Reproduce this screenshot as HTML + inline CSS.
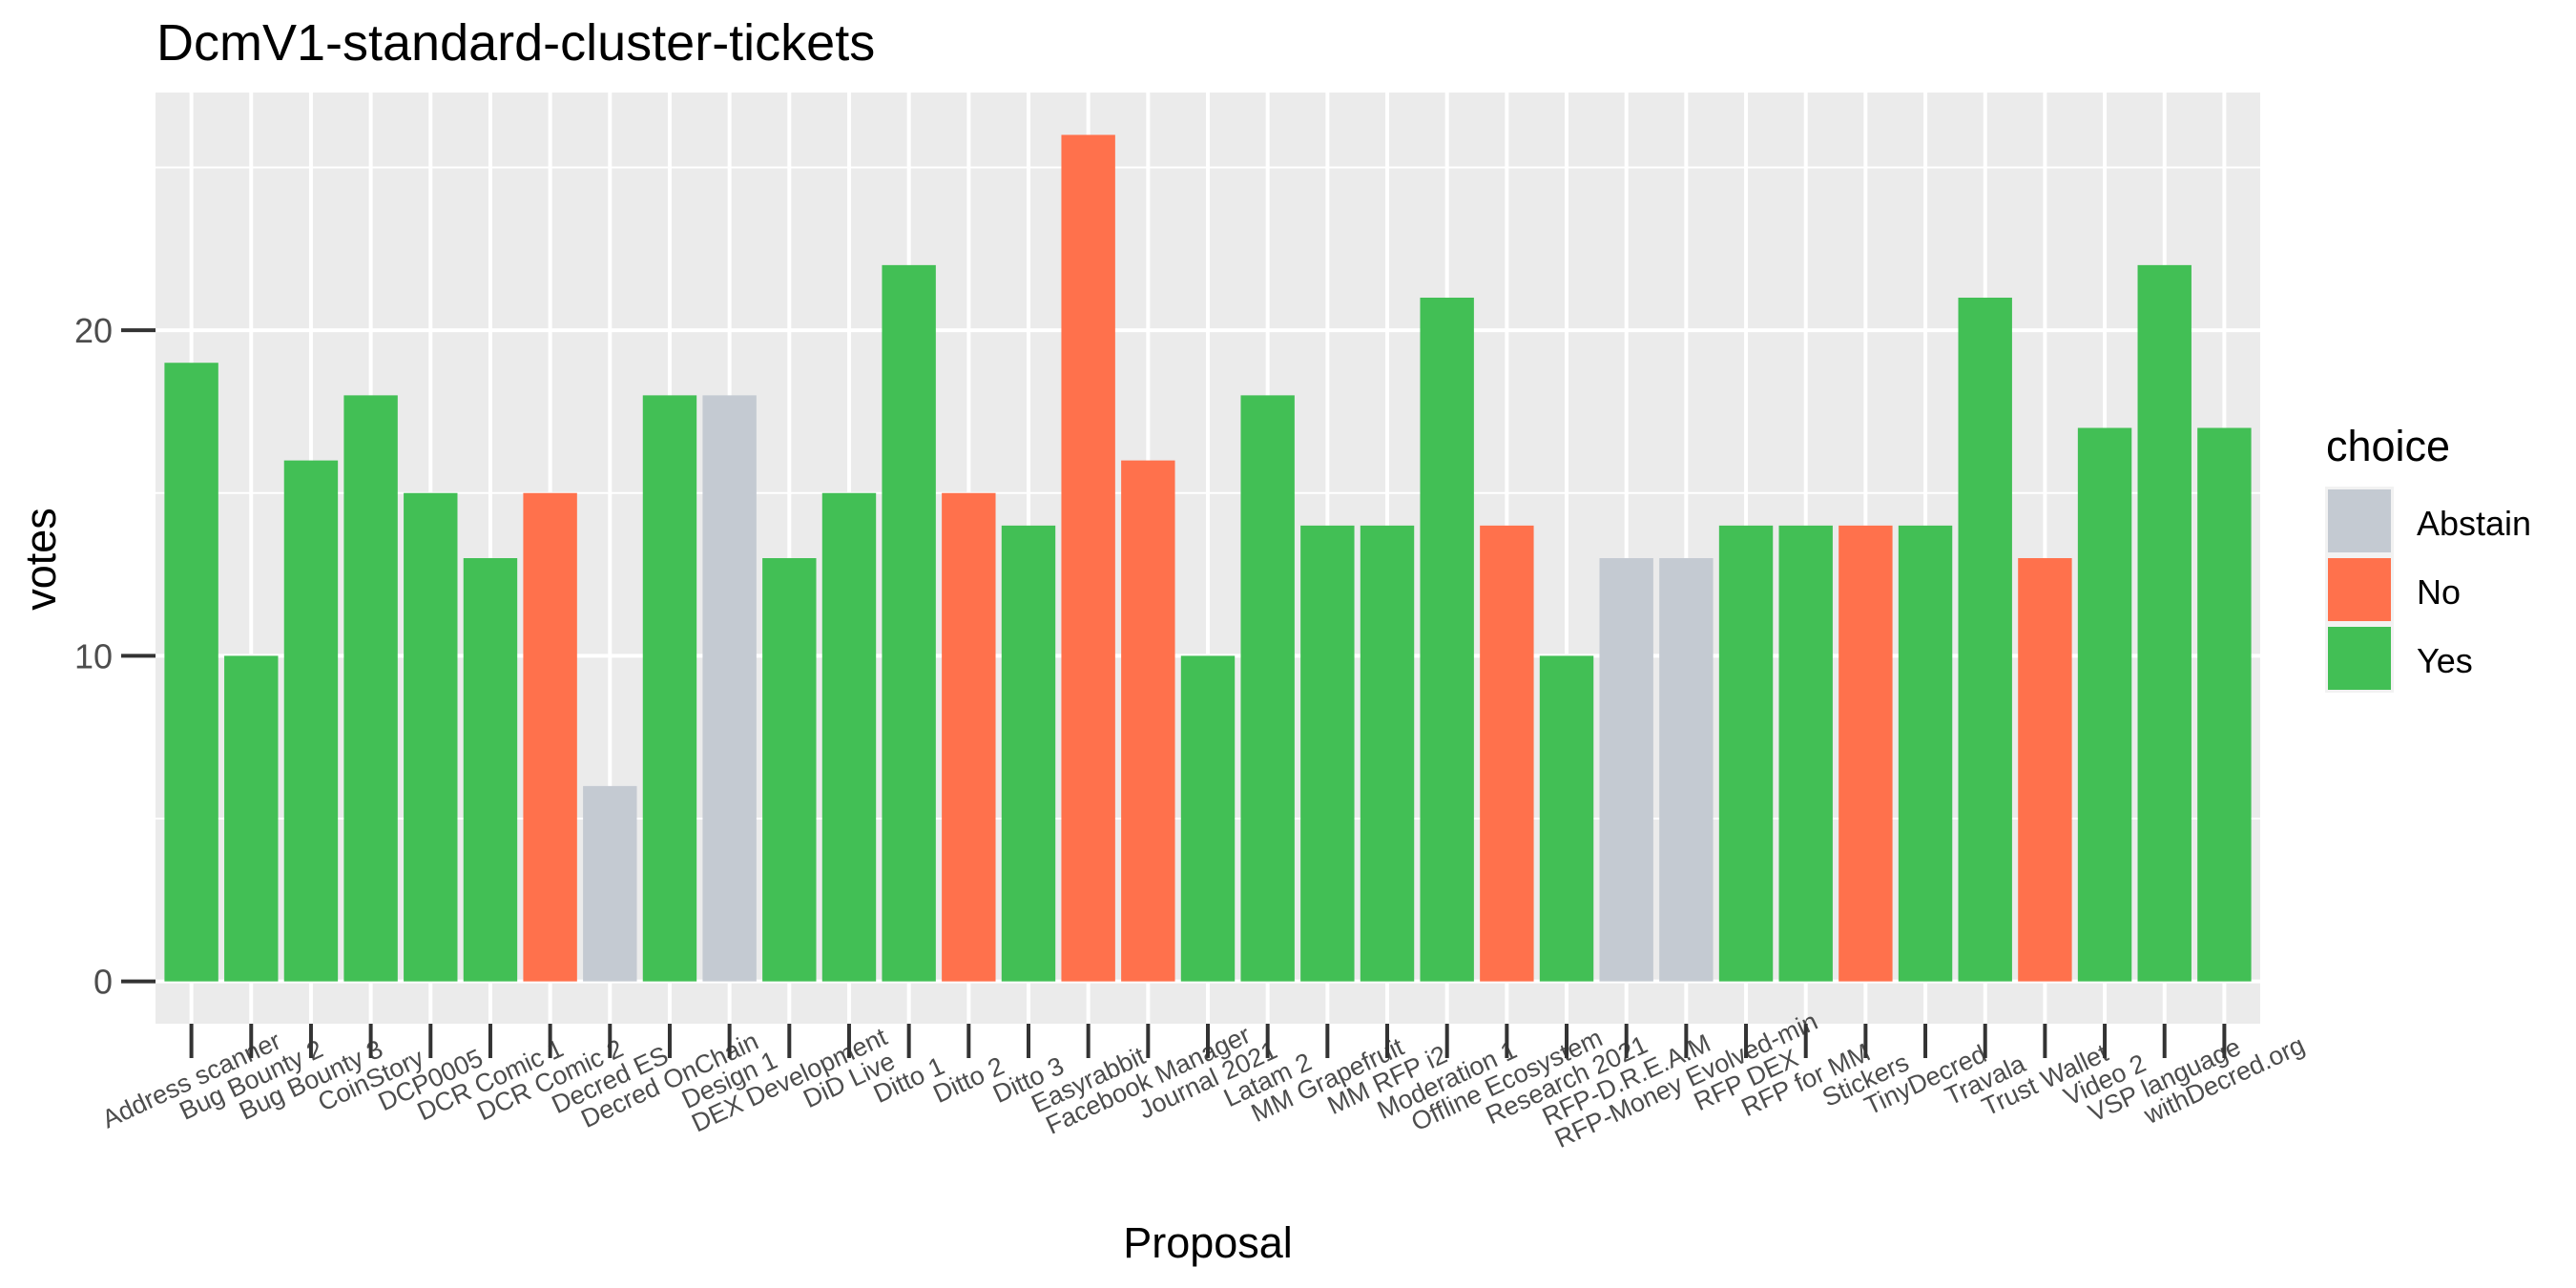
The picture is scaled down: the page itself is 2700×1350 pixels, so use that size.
<!DOCTYPE html>
<html><head><meta charset="utf-8"><style>
html,body{margin:0;padding:0;background:#fff;}
svg{display:block;font-family:"Liberation Sans",Arial,sans-serif;}
</style></head><body>
<svg id="chart" width="2700" height="1350" viewBox="0 0 2700 1350" xmlns="http://www.w3.org/2000/svg">
<rect x="0" y="0" width="2700" height="1350" fill="#fff"/>
<text x="164" y="63" font-size="54" fill="#000">DcmV1-standard-cluster-tickets</text>
<rect x="163" y="97" width="2206" height="976" fill="#EBEBEB"/>
<g id="grid"></g>
<g id="bars"></g>
<g id="yaxis"></g>
<g id="xaxis"></g>
<text x="0" y="0" font-size="45" fill="#000" text-anchor="middle" transform="translate(58,586) rotate(-90)">votes</text>
<text x="1266" y="1318" font-size="45" fill="#000" text-anchor="middle">Proposal</text>
<g>
<text x="2438" y="483" font-size="45" fill="#000">choice</text>
<rect x="2437" y="510" width="72" height="216" fill="#F2F2F2"/>
<rect x="2440" y="513" width="66" height="66" fill="#C4CAD2"/>
<text x="2533" y="561" font-size="36" fill="#000">Abstain</text>
<rect x="2440" y="585" width="66" height="66" fill="#FF714C"/>
<text x="2533" y="633" font-size="36" fill="#000">No</text>
<rect x="2440" y="657" width="66" height="66" fill="#42BF55"/>
<text x="2533" y="705" font-size="36" fill="#000">Yes</text>
</g>
</svg>
<script>
const categories = ["Address scanner","Bug Bounty 2","Bug Bounty 3","CoinStory","DCP0005","DCR Comic 1","DCR Comic 2","Decred ES","Decred OnChain","Design 1","DEX Development","DiD Live","Ditto 1","Ditto 2","Ditto 3","Easyrabbit","Facebook Manager","Journal 2021","Latam 2","MM Grapefruit","MM RFP i2","Moderation 1","Offline Ecosystem","Research 2021","RFP-D.R.E.A.M","RFP-Money Evolved-min","RFP DEX","RFP for MM","Stickers","TinyDecred","Travala","Trust Wallet","Video 2","VSP language","withDecred.org"];
const votes = [19,10,16,18,15,13,15,6,18,18,13,15,22,15,14,26,16,10,18,14,14,21,14,10,13,13,14,14,14,14,21,13,17,22,17];
const choices = ["Yes","Yes","Yes","Yes","Yes","Yes","No","Abstain","Yes","Abstain","Yes","Yes","Yes","No","Yes","No","No","Yes","Yes","Yes","Yes","Yes","No","Yes","Abstain","Abstain","Yes","Yes","No","Yes","Yes","No","Yes","Yes","Yes"];
const yMajorTicks = [0,10,20];
const yMinorTicks = [5,15,25];
const yTickLabels = ["0","10","20"];

const NS="http://www.w3.org/2000/svg";
const colors={Yes:"#42BF55",No:"#FF714C",Abstain:"#C4CAD2"};
const PL=163, PR=2369, PT=97, PB=1073;
const maxV=Math.max(...votes);
const yMax=maxV*1.05;
const y0=PB-(PB-PT)*(0.05*maxV)/(yMax+0.05*maxV);
const unit=(y0-PT)/yMax;
function yScale(v){return y0-v*unit;}
const step=(PR-PL)/(categories.length-1+1.2);
function xScale(i){return PL+step*(0.6+i);}
function mk(tag,attrs,parent){const e=document.createElementNS(NS,tag);for(const k in attrs)e.setAttribute(k,attrs[k]);parent.appendChild(e);return e;}
const grid=document.getElementById('grid'),bars=document.getElementById('bars'),ya=document.getElementById('yaxis'),xa=document.getElementById('xaxis');
yMinorTicks.forEach(v=>{const l=mk('line',{x1:PL,x2:PR,y1:yScale(v),y2:yScale(v),stroke:"#fff","stroke-width":2},grid);

});
yMajorTicks.forEach((v,i)=>{const l=mk('line',{x1:PL,x2:PR,y1:yScale(v),y2:yScale(v),stroke:"#fff","stroke-width":4},grid);


const t=mk('line',{x1:127,x2:PL,y1:yScale(v),y2:yScale(v),stroke:"#333","stroke-width":4},ya);


const tx=mk('text',{x:118,y:yScale(v)+13,"font-size":36,fill:"#4D4D4D","text-anchor":"end"},ya);
tx.textContent=yTickLabels[i];

});
categories.forEach((c,i)=>{const x=xScale(i);
const g=mk('line',{x1:x,x2:x,y1:PT,y2:PB,stroke:"#fff","stroke-width":4},grid);


const bw=step*0.9;
const b=mk('rect',{x:x-bw/2,y:yScale(votes[i]),width:bw,height:y0-yScale(votes[i]),fill:colors[choices[i]]},bars);


const t=mk('line',{x1:x,x2:x,y1:PB,y2:PB+36,stroke:"#333","stroke-width":4},xa);


const tx=mk('text',{x:0,y:9,"font-size":27,fill:"#4D4D4D","text-anchor":"middle",transform:"translate("+x+",1132) rotate(-25)"},xa);
tx.textContent=c;

});
</script>
</body></html>
